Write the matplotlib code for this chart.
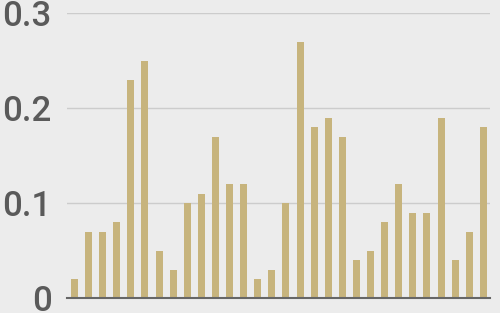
import matplotlib
matplotlib.use("Agg")
import matplotlib.pyplot as plt

values = [0.02, 0.07, 0.07, 0.08, 0.23, 0.25, 0.05, 0.03, 0.10, 0.11,
          0.17, 0.12, 0.12, 0.02, 0.03, 0.10, 0.27, 0.18, 0.19, 0.17,
          0.04, 0.05, 0.08, 0.12, 0.09, 0.09, 0.19, 0.04, 0.07, 0.18]
yticks = [0, 0.1, 0.2, 0.3]
ytick_labels = ["0", "0.1", "0.2", "0.3"]

bg = "#ececec"
fig = plt.figure(figsize=(5, 3.13), dpi=100, facecolor=bg)
ax = fig.add_axes([67/500, 15/313, 423/500, 285/313])
ax.set_facecolor(bg)

x = list(range(len(values)))
ax.bar(x, values, width=0.5, color="#c7b47d", zorder=2)

ax.set_xlim(-0.53, len(values) - 1 + 0.47)
ax.set_ylim(0, 0.3)
ax.set_yticks(yticks)
ax.set_yticklabels(ytick_labels, fontsize=25, fontweight="medium",
                   color="#5a5a5a", family=["Roboto", "Liberation Sans", "DejaVu Sans"])
for lbl in ax.get_yticklabels():
    lbl.set_verticalalignment("center_baseline")
ax.tick_params(axis="y", length=0, pad=11)
ax.set_xticks([])
ax.grid(axis="y", color="#cccccc", linewidth=1, zorder=0)
for s in ["top", "right", "left"]:
    ax.spines[s].set_visible(False)
ax.spines["bottom"].set_color("#666666")
ax.spines["bottom"].set_linewidth(1.5)
ax.spines["bottom"].set_zorder(3)

fig.savefig("out.png", dpi=100, facecolor=bg)
